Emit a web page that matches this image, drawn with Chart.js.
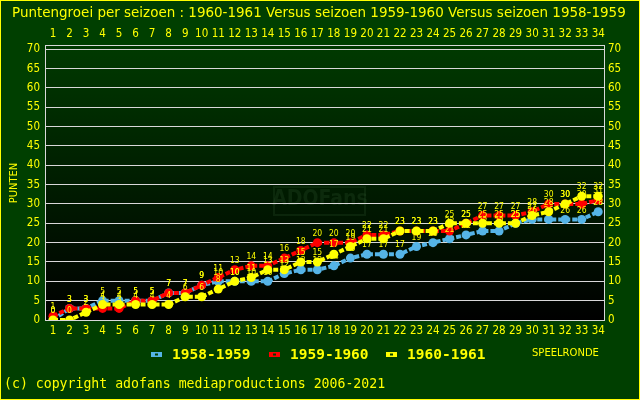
<!DOCTYPE html>
<html><head><meta charset="utf-8">
<script src="https://cdn.jsdelivr.net/npm/chart.js@4"></script>
<style>html,body{margin:0;padding:0;background:#003f00;}canvas{display:block;}</style>
</head><body><canvas id="c" width="640" height="400"></canvas>
<script>
const rounds = [1,2,3,4,5,6,7,8,9,10,11,12,13,14,15,16,17,18,19,20,21,22,23,24,25,26,27,28,29,30,31,32,33,34];
const s1958 = [0,3,3,5,5,5,5,7,7,9,10,10,10,10,12,13,13,14,16,17,17,17,19,20,21,22,23,23,25,26,26,26,26,28];
const s1959 = [1,3,3,3,3,5,5,7,7,9,11,13,14,14,16,18,20,20,20,22,22,23,23,23,23,25,27,27,27,28,30,30,30,31];
const s1960 = [0,0,2,4,4,4,4,4,6,6,8,10,11,13,13,15,15,17,19,21,21,23,23,23,25,25,25,25,25,27,28,30,32,32];
const yTicks = [0,5,10,15,20,25,30,35,40,45,50,55,60,65,70];
const seriesNames = ['1958-1959','1959-1960','1960-1961'];
const titleText = 'Puntengroei per seizoen : 1960-1961 Versus seizoen 1959-1960 Versus seizoen 1958-1959';
const yTitle = 'PUNTEN';
const xTitle = 'SPEELRONDE';
const copyright = '(c) copyright adofans mediaproductions 2006-2021';
const watermark = 'ADOFans';

const YEL = '#ffff00';
const COLORS = ['#55b4e6', '#ff0000', '#ffff00'];
const FAM = '"DejaVu Sans Condensed", "DejaVu Sans", sans-serif';
const MONO = '"DejaVu Sans Mono", "Liberation Mono", monospace';

const toPts = arr => arr.map((v, i) => ({x: rounds[i], y: v}));

function mkDs(i, data, order) {
  return {
    label: seriesNames[i], data: toPts(data), order: order,
    borderColor: COLORS[i], backgroundColor: COLORS[i],
    pointBackgroundColor: COLORS[i], pointBorderColor: COLORS[i],
    borderWidth: 4, borderDash: [5, 2], pointRadius: 4.5, pointBorderWidth: 0,
    tension: 0
  };
}

const roundTicks = s => { s.ticks = rounds.map(v => ({value: v})); };
const yTickSet = s => { s.ticks = yTicks.map(v => ({value: v})); };

const deco = {
  id: 'deco',
  beforeDraw(chart) {
    const ctx = chart.ctx, a = chart.chartArea;
    ctx.save();
    ctx.fillStyle = '#003f00';
    ctx.fillRect(0, 0, 640, 400);
    const g = ctx.createLinearGradient(0, a.top, 0, a.bottom);
    g.addColorStop(0, '#003a00');
    g.addColorStop(1, '#000000');
    ctx.fillStyle = g;
    ctx.fillRect(a.left, a.top, a.right - a.left, a.bottom - a.top);
    // watermark
    ctx.strokeStyle = 'rgba(40,80,40,0.28)';
    ctx.lineWidth = 2;
    ctx.strokeRect(274, 187, 91, 28);
    ctx.fillStyle = 'rgba(40,80,40,0.3)';
    ctx.font = 'bold 21px "DejaVu Sans Condensed", "DejaVu Sans", sans-serif';
    ctx.textAlign = 'center'; ctx.textBaseline = 'middle';
    ctx.fillText(watermark, 320, 200);
    ctx.restore();
  },
  afterDatasetsDraw(chart) {
    const ctx = chart.ctx;
    ctx.save();
    ctx.fillStyle = YEL;
    ctx.font = '8.5px ' + FAM;
    ctx.textAlign = 'center'; ctx.textBaseline = 'middle';
    [2, 1, 0].forEach(di => {
      const meta = chart.getDatasetMeta(di);
      meta.data.forEach((p, i) => {
        ctx.fillText(String(chart.data.datasets[di].data[i].y), p.x, p.y - 9);
      });
    });
    ctx.restore();
  },
  afterDraw(chart) {
    const ctx = chart.ctx, a = chart.chartArea;
    ctx.save();
    // plot frame
    ctx.strokeStyle = '#d8d8d8';
    ctx.lineWidth = 1;
    ctx.strokeRect(a.left + 0.5, a.top + 0.5, a.right - a.left - 1, a.bottom - a.top);
    // outer border
    ctx.strokeStyle = YEL;
    ctx.lineWidth = 2;
    ctx.strokeRect(0, 0, 640, 400);
    // title
    ctx.fillStyle = YEL;
    ctx.textBaseline = 'middle';
    ctx.textAlign = 'left';
    const TF = '"DejaVu Sans", sans-serif';
    ctx.font = '12px ' + TF;
    const w = ctx.measureText(titleText).width;
    const fs = 12 * 614 / w;
    ctx.font = fs.toFixed(2) + 'px ' + TF;
    ctx.fillText(titleText, 12, 13);
    // y title
    ctx.save();
    ctx.translate(14, 183);
    ctx.rotate(-Math.PI / 2);
    ctx.textAlign = 'center';
    ctx.font = '11px ' + FAM;
    ctx.fillText(yTitle, 0, 0);
    ctx.restore();
    // x title
    ctx.textAlign = 'left';
    ctx.font = '10px "DejaVu Sans", sans-serif';
    ctx.fillText(xTitle, 532, 353);
    // legend
    const lx = [151, 269, 386];
    const tx = [172, 290, 407];
    ctx.font = 'bold 14.5px ' + MONO;
    seriesNames.forEach((n, i) => {
      ctx.fillStyle = COLORS[i];
      ctx.fillRect(lx[i], 352, 11, 5);
      ctx.fillStyle = '#003f00';
      ctx.fillRect(lx[i] + 4, 353.5, 3, 2);
      ctx.fillStyle = YEL;
      ctx.fillText(n, tx[i], 355);
    });
    // copyright
    ctx.font = '13.2px ' + MONO;
    ctx.fillText(copyright, 4, 385);
    ctx.restore();
  }
};

new Chart(document.getElementById('c'), {
  type: 'line',
  data: { datasets: [mkDs(0, s1958, 2), mkDs(1, s1959, 1), mkDs(2, s1960, 0)] },
  options: {
    responsive: false, animation: false, devicePixelRatio: 1,
    layout: { padding: 0 },
    plugins: { legend: { display: false }, tooltip: { enabled: false }, title: { display: false } },
    scales: {
      x: {
        type: 'linear', position: 'bottom', min: 0.516, max: 34.41,
        afterBuildTicks: roundTicks,
        afterFit: s => { s.height = 80; },
        grid: { display: false, drawTicks: false }, border: { display: false },
        ticks: { color: YEL, font: { family: FAM, size: 11.5 }, padding: 4, autoSkip: false, maxRotation: 0, align: 'center' }
      },
      x2: {
        type: 'linear', position: 'top', min: 0.516, max: 34.41,
        afterBuildTicks: roundTicks,
        afterFit: s => { s.height = 45; },
        grid: { display: false, drawTicks: false }, border: { display: false },
        ticks: { color: YEL, font: { family: FAM, size: 11.5 }, padding: 4, autoSkip: false, maxRotation: 0 }
      },
      y: {
        type: 'linear', position: 'left', min: 0, max: 71.1,
        afterBuildTicks: yTickSet,
        afterFit: s => { s.width = 45; },
        grid: { color: '#d8d8d8', lineWidth: 1, drawTicks: false }, border: { display: false },
        ticks: { color: YEL, font: { family: FAM, size: 11.5 }, padding: 5 }
      },
      y2: {
        type: 'linear', position: 'right', min: 0, max: 71.1,
        afterBuildTicks: yTickSet,
        afterFit: s => { s.width = 35; },
        grid: { display: false, drawTicks: false }, border: { display: false },
        ticks: { color: YEL, font: { family: FAM, size: 11.5 }, padding: 3 }
      }
    }
  },
  plugins: [deco]
});
</script>
</body></html>
